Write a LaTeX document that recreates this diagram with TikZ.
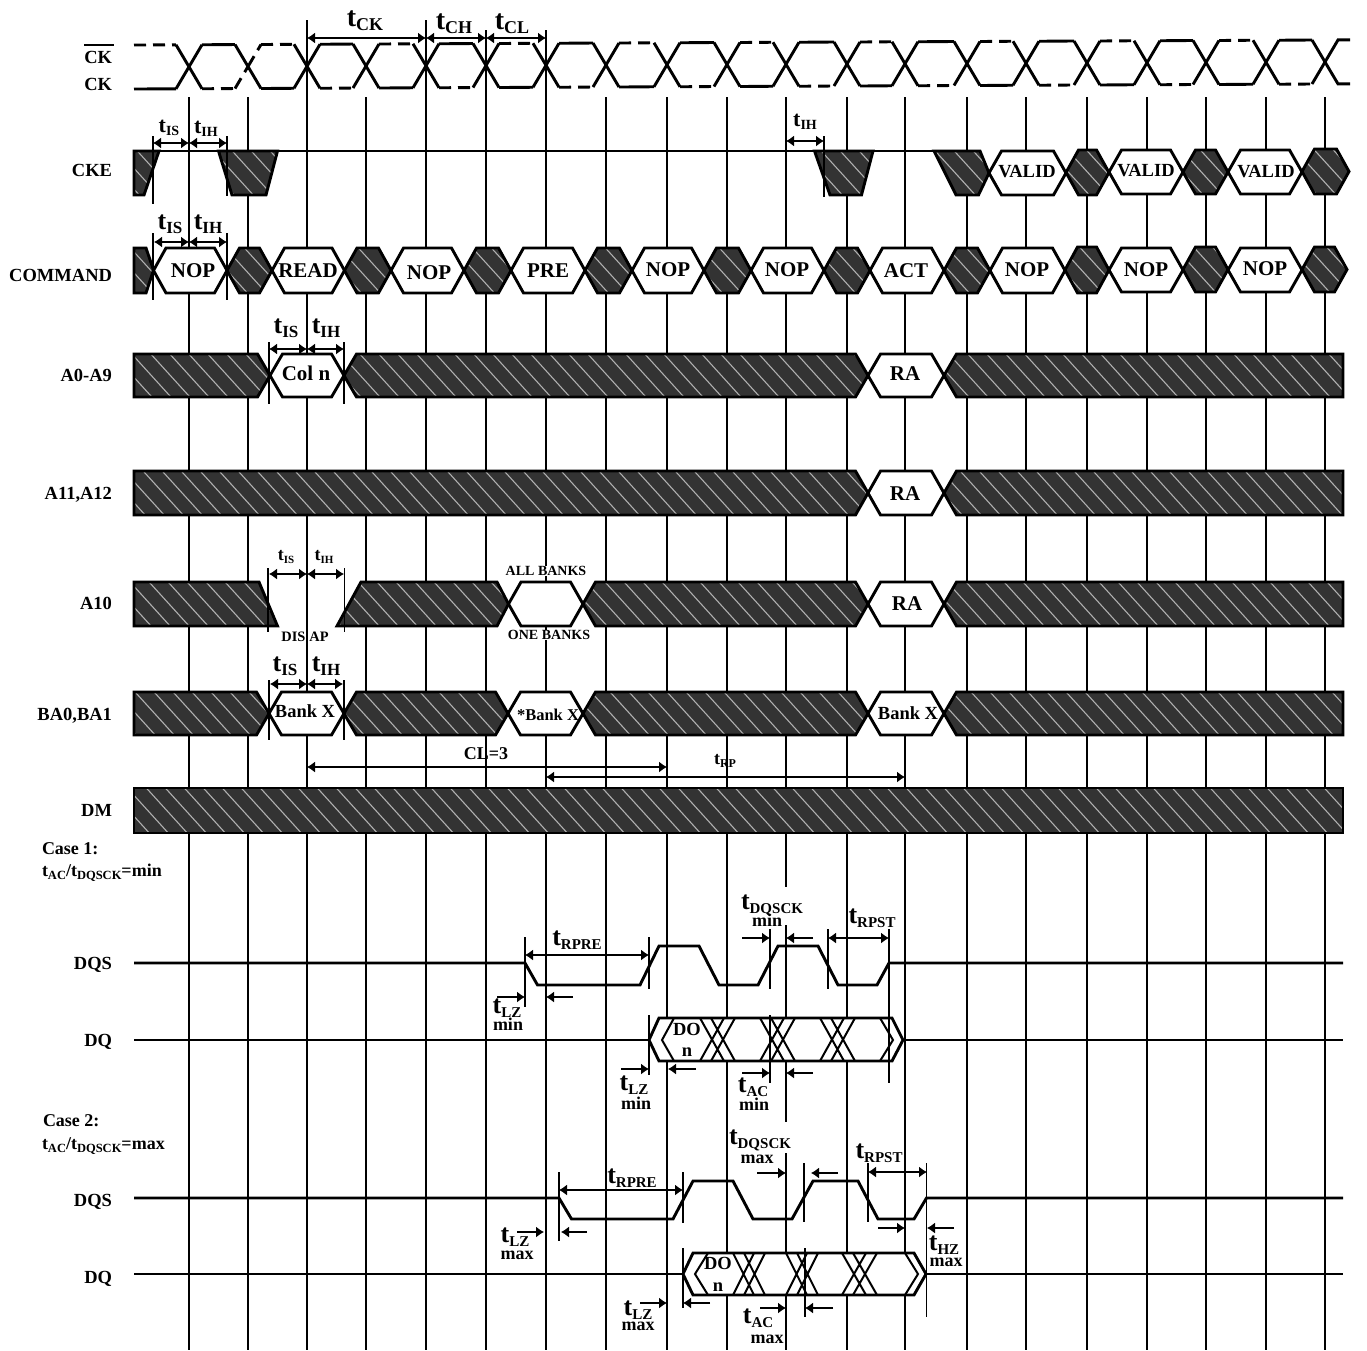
\documentclass[tikz,border=0pt]{standalone}
\usepackage{fontspec}
\setmainfont{Liberation Serif}
\usetikzlibrary{arrows.meta}
\definecolor{hatchdark}{HTML}{333333}
\definecolor{hatchlight}{HTML}{B0B0B0}
\newcommand\fs[1]{\fontsize{#1}{#1}\selectfont}
\newcommand\tsb[3]{\fs{#1}t\raisebox{-0.15em}{\fs{#2}#3}}
\tikzset{
  gridline/.style={line width=1.3pt,black},
  wave/.style={line width=2.9pt,black,line join=miter},
  wavedash/.style={line width=2.9pt,black,dash pattern=on 12pt off 7pt},
  thinx/.style={line width=2pt,black},
  tick/.style={line width=1.2pt,black},
  dimline/.style={line width=1.2pt,black,{Latex[length=8pt,width=11pt]}-{Latex[length=8pt,width=11pt]}},
  dimto/.style={line width=1.2pt,black,-{Latex[length=8pt,width=11pt]}},
  txt/.style={font=\bfseries,inner sep=0pt,outer sep=0pt,text=black},
  sig/.style={txt,anchor=east,font=\bfseries\fs{18.5},text height=12.5pt,text depth=0pt},
  hexlab/.style={txt,font=\bfseries\fs{21},text height=14pt,text depth=0pt},
  stripe/.style={line width=1.1pt,hatchlight},
}
% hatched polygon: xmin xmax ytop ybot path
\newcommand\hpoly[5]{%
  \begin{scope}
    \clip #5 -- cycle;
    \fill[hatchdark] (#1,#3) rectangle (#2,#4);
    \pgfmathtruncatemacro\ka{floor((#1-#4/1.1)/19)}
    \pgfmathtruncatemacro\kb{ceil((#2-#3/1.1)/19)}
    \foreach \k in {\ka,...,\kb}{
      \draw[stripe] ({19*\k+#3/1.1},#3) -- ({19*\k+#4/1.1},#4);
    }
  \end{scope}
  \draw[wave] #5 -- cycle;
}
% hatched hexagon between tips
\newcommand\dhex[4]{%
  \hpoly{#1}{#2}{#3}{#4}{(#1,{(#3+#4)/2}) -- ({#1+12.5},#3) -- ({#2-12.5},#3) -- (#2,{(#3+#4)/2}) -- ({#2-12.5},#4) -- ({#1+12.5},#4)}%
}
% white hexagon
\newcommand\whex[4]{%
  \draw[wave,fill=white] (#1,{(#3+#4)/2}) -- ({#1+12.5},#3) -- ({#2-12.5},#3) -- (#2,{(#3+#4)/2}) -- ({#2-12.5},#4) -- ({#1+12.5},#4) -- cycle;%
}
% band with flat left end, tip at right
\newcommand\lband[4]{%
  \hpoly{#1}{#2}{#3}{#4}{(#1,#3) -- ({#2-12.5},#3) -- (#2,{(#3+#4)/2}) -- ({#2-12.5},#4) -- (#1,#4)}%
}
% band with tip at left, flat right end
\newcommand\rband[4]{%
  \hpoly{#1}{#2}{#3}{#4}{(#1,{(#3+#4)/2}) -- ({#1+12.5},#3) -- (#2,#3) -- (#2,#4) -- ({#1+12.5},#4)}%
}
% crossing group of the data eye
\newcommand\dqx[4]{%
  \draw[thinx] (#1,#2) -- ({#1+#4-11},#3) ({#1+11},#2) -- ({#1+#4},#3)
               (#1,#3) -- ({#1+#4-11},#2) ({#1+11},#3) -- ({#1+#4},#2);%
}
\begin{document}
\begin{tikzpicture}[x=1pt,y=-1pt,declare function={ckt(\x)=45-(\x-134)*5/1190;}]
\useasboundingbox (0,0) rectangle (1367,1350);
\fill[white] (0,0) rectangle (1367,1350);

% ---------- clock grid ----------
\foreach \x in {189,248,366,606,667,727,786,847,905,967,1026,1087,1147,1206,1266,1325}
  \draw[gridline] (\x,97) -- (\x,1350);
\foreach \x in {307,426} \draw[gridline] (\x,20) -- (\x,1350);
\foreach \x in {486,546} \draw[gridline] (\x,30) -- (\x,1350);
% gaps of the grid behind two labels
\fill[white] (783,887) rectangle (789,925);
\fill[white] (783,1122) rectangle (789,1153);

% ---------- CK / CK# ----------
\draw[wavedash] (134,{ckt(134)}) -- (176,{ckt(176)});
\draw[wave] (134,{ckt(134)+44}) -- (176,{ckt(176)+44});
\draw[wave] (176,{ckt(176)}) -- (189,{ckt(189)+22});
\draw[wave] (176,{ckt(176)+44}) -- (189,{ckt(189)+22});
\foreach \a/\b [count=\i from 1] in {189/248,248/307,307/366,366/426,426/486,486/546,546/606,606/667,667/727,727/786,786/847,847/905,905/967,967/1026,1026/1087,1087/1147,1147/1206,1206/1266,1266/1325}{
  \pgfmathsetmacro\ta{ckt(\a)}
  \pgfmathsetmacro\tb{ckt(\b)}
  \pgfmathsetmacro\ma{\ta+22}
  \pgfmathsetmacro\mb{\tb+22}
  \pgfmathsetmacro\la{\ta+44}
  \pgfmathsetmacro\lb{\tb+44}
  \pgfmathsetmacro\xa{\a+13}
  \pgfmathsetmacro\xb{\b-13}
  \ifodd\i
    \draw[wave] (\xa,\ta) -- (\xb,\tb);
    \draw[wavedash] (\xa,\la) -- (\xb,\lb);
  \else
    \draw[wavedash] (\xa,\ta) -- (\xb,\tb);
    \draw[wave] (\xa,\la) -- (\xb,\lb);
  \fi
  \ifnum\i=2
    \draw[wavedash] (\a,\ma) -- (\xa,\ta);
  \else
    \draw[wave] (\a,\ma) -- (\xa,\ta);
  \fi
  \draw[wave] (\xb,\tb) -- (\b,\mb);
  \draw[wave] (\a,\ma) -- (\xa,\la);
  \ifnum\i=1
    \draw[wavedash] (\xb,\lb) -- (\b,\mb);
  \else
    \draw[wave] (\xb,\lb) -- (\b,\mb);
  \fi
}
\draw[wave] (1325,{ckt(1325)+22}) -- (1338,{ckt(1338)}) -- (1350,{ckt(1350)});
\draw[wave] (1325,{ckt(1325)+22}) -- (1338,{ckt(1338)+44}) -- (1350,{ckt(1350)+44});

\draw[dimline] (307,38) -- (426,38);
\draw[dimline] (426,38) -- (486,38);
\draw[dimline] (486,38) -- (546,38);
\node[txt] (lblTCK) at (365,21) {\tsb{28}{18}{CK}};
\node[txt] (lblTCH) at (454,24) {\tsb{28}{18}{CH}};
\node[txt] (lblTCL) at (512,24) {\tsb{28}{18}{CL}};

% ---------- CKE ----------
\draw[wave] (159,151) -- (815,151);
\draw[wave] (873,151) -- (934,151);
\hpoly{134}{159}{151}{195}{(134,151) -- (159,151) -- (144,195) -- (134,195)}
\hpoly{218}{278}{151}{195}{(218.5,151) -- (277.5,151) -- (266,195) -- (232,195)}
\hpoly{814}{873}{151}{195}{(814.5,151) -- (873,151) -- (861.5,195) -- (830,195)}
\hpoly{934}{990}{151}{195}{(934,151) -- (980,151) -- (989,173) -- (978.5,195) -- (956,195)}
\whex{989}{1066}{151}{195}
\dhex{1066}{1109}{150}{195}
\whex{1109}{1183}{150}{194}
\dhex{1183}{1228}{150}{194}
\whex{1228}{1302}{150}{194}
\dhex{1302}{1349}{149}{194}
\node[txt,font=\bfseries\fs{18.5}] (valid1) at (1027,172) {VALID};
\node[txt,font=\bfseries\fs{18.5}] (valid2) at (1146,171) {VALID};
\node[txt,font=\bfseries\fs{18.5}] (valid3) at (1266,172) {VALID};
\draw[tick] (153,136) -- (153,204);
\draw[tick] (227,136) -- (227,196);
\draw[tick] (824,136) -- (824,197);
\draw[dimline] (153,143) -- (189,143);
\draw[dimline] (189,143) -- (227,143);
\draw[dimline] (786,141) -- (824,141);
\node[txt] (ckeIS) at (169,128) {\tsb{22}{14}{IS}};
\node[txt] (ckeIH) at (206,129) {\tsb{22}{14}{IH}};
\node[txt] (ckeIHb) at (805,122) {\tsb{22}{14}{IH}};

% ---------- COMMAND ----------
\hpoly{134}{154}{248}{293}{(134,248) -- (146,248) -- (153.5,270) -- (146,293) -- (134,293)}
\whex{153.5}{227}{248}{293}
\dhex{227}{272}{248}{293}
\whex{272}{344.5}{248}{293}
\dhex{344.5}{391}{248}{293}
\whex{391}{464}{248}{293}
\dhex{464}{511}{248}{293}
\whex{511}{585}{248}{293}
\dhex{585}{632}{248}{293}
\whex{632}{704}{248}{293}
\dhex{704}{751}{248}{293}
\whex{751}{824}{248}{293}
\dhex{824}{870}{248}{293}
\whex{870}{944}{248}{293}
\dhex{944}{990}{248}{293}
\whex{990}{1065}{248}{293}
\dhex{1065}{1109}{247}{293}
\whex{1109}{1183}{248}{292}
\dhex{1183}{1228}{247}{292}
\whex{1228}{1302}{248}{292}
\dhex{1302}{1347}{247}{292}
\node[hexlab] (cmd1) at (193,270) {NOP};
\node[hexlab] (cmd2) at (308,270) {READ};
\node[hexlab] (cmd3) at (429,272) {NOP};
\node[hexlab] (cmd4) at (548,270) {PRE};
\node[hexlab] (cmd5) at (668,269) {NOP};
\node[hexlab] (cmd6) at (787,269) {NOP};
\node[hexlab] (cmd7) at (906,270) {ACT};
\node[hexlab] (cmd8) at (1027,269) {NOP};
\node[hexlab] (cmd9) at (1146,269) {NOP};
\node[hexlab] (cmd10) at (1265,268) {NOP};
\draw[tick] (153,233) -- (153,300);
\draw[tick] (227,233) -- (227,300);
\draw[dimline] (154,242) -- (189,242);
\draw[dimline] (189,242) -- (227,242);
\node[txt] (cmdIS) at (170,224) {\tsb{26}{17}{IS}};
\node[txt] (cmdIH) at (208,224) {\tsb{26}{17}{IH}};

% ---------- A0-A9 ----------
\lband{134}{270}{354}{397}
\whex{270}{344}{354}{397}
\dhex{344}{868}{354}{397}
\whex{868}{944}{354}{397}
\rband{944}{1343}{354}{397}
\node[hexlab] (coln) at (306,373) {Col n};
\node[hexlab] (ra1) at (905,373) {RA};
\draw[tick] (269,342) -- (269,404);
\draw[tick] (344,342) -- (344,404);
\draw[dimline] (269,349) -- (307,349);
\draw[dimline] (307,349) -- (344,349);
\node[txt] (aIS) at (286,328) {\tsb{26}{17}{IS}};
\node[txt] (aIH) at (326,328) {\tsb{26}{17}{IH}};

% ---------- A11,A12 ----------
\lband{134}{868}{471}{515}
\whex{868}{944}{471}{515}
\rband{944}{1343}{471}{515}
\node[hexlab] (ra2) at (905,493) {RA};

% ---------- A10 ----------
\hpoly{134}{278}{582}{626}{(134,582) -- (259,582) -- (277.5,626) -- (134,626)}
\hpoly{337}{509}{582}{626}{(337,626) -- (361,582) -- (497,582) -- (508.5,604) -- (497,626)}
\whex{508.5}{583}{582}{626}
\dhex{583}{868}{582}{626}
\whex{868}{944}{582}{626}
\rband{944}{1343}{582}{626}
\node[txt,fill=white,font=\bfseries\fs{14}] (allb) at (546,571) {ALL BANKS};
\node[txt,fill=white,font=\bfseries\fs{14}] (oneb) at (549,635) {ONE BANKS};
\node[txt,font=\bfseries\fs{14.4}] (disap) at (305,637) {DIS\hspace{4pt}AP};
\node[hexlab] (ra3) at (907,603) {RA};
\draw[tick] (268,568) -- (268,632);
\draw[tick] (344.5,568) -- (344.5,632);
\draw[dimline] (269,574) -- (307,574);
\draw[dimline] (307,574) -- (344,574);
\node[txt] (tenIS) at (286,557) {\tsb{18}{11}{IS}};
\node[txt] (tenIH) at (324,557) {\tsb{18}{11}{IH}};

% ---------- BA0,BA1 ----------
\lband{134}{269}{692}{735}
\whex{269}{344}{692}{735}
\dhex{344}{508}{692}{735}
\whex{508}{583}{692}{735}
\dhex{583}{868}{692}{735}
\whex{868}{944}{692}{735}
\rband{944}{1343}{692}{735}
\node[txt,font=\bfseries\fs{18.5}] (bank1) at (305,711) {Bank X};
\node[txt,font=\bfseries\fs{16.5}] (bank2) at (548,715) {*Bank X};
\node[txt,font=\bfseries\fs{18.5}] (bank3) at (908,713) {Bank X};
\draw[tick] (269,680) -- (269,740);
\draw[tick] (344,680) -- (344,740);
\draw[dimline] (270,684) -- (307,684);
\draw[dimline] (307,684) -- (343,684);
\node[txt] (baIS) at (285,666) {\tsb{26}{17}{IS}};
\node[txt] (baIH) at (326,666) {\tsb{26}{17}{IH}};

% ---------- CL / tRP ----------
\draw[dimline] (307,767) -- (667,767);
\draw[dimline] (546,777) -- (905,777);
\node[txt,font=\bfseries\fs{18}] (cl) at (486,754) {CL=3};
\node[txt] (trp) at (725,761) {\tsb{18}{12}{RP}};

% ---------- DM ----------
\hpoly{134}{1343}{788}{833}{(134,788) -- (1343,788) -- (1343,833) -- (134,833)}

% ---------- signal names ----------
\node[sig] (sCKn) at (112,57) {\makebox[0pt][l]{\rule[17pt]{30pt}{1.8pt}}CK};
\node[sig] (sCK) at (112,84) {CK};
\node[sig] (sCKE) at (112,170) {CKE};
\node[sig] (sCMD) at (112,275) {COMMAND};
\node[sig] (sA0) at (112,375) {A0-A9};
\node[sig] (sA11) at (112,493) {A11,A12};
\node[sig] (sA10) at (112,603) {A10};
\node[sig] (sBA) at (112,714) {BA0,BA1};
\node[sig] (sDM) at (112,810) {DM};
\node[sig] (sDQS1) at (112,963) {DQS};
\node[sig] (sDQ1) at (112,1040) {DQ};
\node[sig] (sDQS2) at (112,1200) {DQS};
\node[sig] (sDQ2) at (112,1277) {DQ};
\node[txt,anchor=west,font=\bfseries\fs{18}] (case1) at (42,849) {Case 1:};
\node[txt,anchor=west] (case1b) at (42,873) {\tsb{18}{12.5}{AC}\fs{18}/\tsb{18}{12.5}{DQSCK}\fs{18}=min};
\node[txt,anchor=west,font=\bfseries\fs{18}] (case2) at (43,1121) {Case 2:};
\node[txt,anchor=west] (case2b) at (42,1146) {\tsb{18}{12.5}{AC}\fs{18}/\tsb{18}{12.5}{DQSCK}\fs{18}=max};

% ---------- Case 1 DQS ----------
\draw[wave] (134,963) -- (525,963) -- (537.5,985) -- (640,985) -- (659,946) -- (699,946) -- (719,985) -- (758,985) -- (778,946) -- (818,946) -- (838,985) -- (877,985) -- (889,963) -- (1343,963);
\node[txt] (c1rpre) at (577,940) {\tsb{26}{15}{RPRE}};
\node[txt] (c1dqsck) at (772,905) {\tsb{26}{15}{DQSCK}};
\node[txt,font=\bfseries\fs{18}] (c1min1) at (767,920) {min};
\node[txt] (c1rpst) at (872,918) {\tsb{26}{15}{RPST}};
\draw[tick] (525,937) -- (525,1007);
\draw[tick] (649,937) -- (649,989);
\draw[tick] (770,929) -- (770,989);
\draw[tick] (828,929) -- (828,989);
\draw[dimline] (525,955) -- (649,955);
\draw[dimto] (742,938) -- (770,938);
\draw[dimto] (813,938) -- (786,938);
\draw[dimline] (828,938) -- (889,938);
\draw[dimto] (497,997) -- (525,997);
\draw[dimto] (573,997) -- (546,997);
\node[txt] (c1lz1) at (507,1008) {\tsb{26}{15}{LZ}};
\node[txt,font=\bfseries\fs{18}] (c1min2) at (508,1024) {min};

% ---------- Case 1 DQ ----------
\draw[wave] (134,1040) -- (649,1040);
\draw[wave] (903,1040) -- (1343,1040);
\draw[wave,fill=white] (649,1040) -- (659,1018) -- (892,1018) -- (903,1040) -- (892,1061) -- (659,1061) -- cycle;
\draw[thinx] (674,1018) -- (662,1040) -- (674,1061);
\draw[thinx] (880,1018) -- (893,1040) -- (880,1061);
\dqx{700}{1018}{1061}{35}
\dqx{760}{1018}{1061}{35}
\dqx{820}{1018}{1061}{35}
\node[txt,font=\bfseries\fs{18.5}] (c1do) at (687,1029) {DO};
\node[txt,font=\bfseries\fs{18.5}] (c1n) at (687,1052) {n};
\draw[tick] (649,1015) -- (649,1075);
\draw[tick] (770,1015) -- (770,1083);
\draw[tick] (889,929) -- (889,1083);
\draw[dimto] (621,1069) -- (649,1069);
\draw[dimto] (696,1069) -- (668,1069);
\draw[dimto] (742,1073) -- (770,1073);
\draw[dimto] (813,1073) -- (786,1073);
\node[txt] (c1lz2) at (634,1085) {\tsb{26}{15}{LZ}};
\node[txt,font=\bfseries\fs{18}] (c1min3) at (636,1103) {min};
\node[txt] (c1ac) at (753,1087) {\tsb{26}{15}{AC}};
\node[txt,font=\bfseries\fs{18}] (c1min4) at (754,1104) {min};

% ---------- Case 2 DQS ----------
\draw[wave] (134,1198) -- (559,1198) -- (571.5,1219) -- (673,1219) -- (693,1181) -- (733,1181) -- (753,1219) -- (792,1219) -- (813,1181) -- (858,1181) -- (878,1219) -- (914,1219) -- (926.5,1198) -- (1343,1198);
\node[txt] (c2rpre) at (632,1178) {\tsb{26}{15}{RPRE}};
\node[txt] (c2dqsck) at (760,1140) {\tsb{26}{15}{DQSCK}};
\node[txt,font=\bfseries\fs{18}] (c2max1) at (757,1159) {max};
\node[txt] (c2rpst) at (879,1153) {\tsb{26}{15}{RPST}};
\draw[tick] (559,1172) -- (559,1241);
\draw[tick] (683,1172) -- (683,1223);
\draw[tick] (804,1163) -- (804,1222);
\draw[tick] (868,1163) -- (868,1222);
\draw[dimline] (559,1190) -- (683,1190);
\draw[dimto] (757,1173) -- (786,1173);
\draw[dimto] (838,1173) -- (811,1173);
\draw[dimline] (868,1172) -- (927,1172);
\draw[dimto] (517,1232) -- (544,1232);
\draw[dimto] (587,1232) -- (561,1232);
\draw[dimto] (878,1228) -- (905,1228);
\draw[dimto] (954,1228) -- (927,1228);
\node[txt] (c2lz1) at (515,1237) {\tsb{26}{15}{LZ}};
\node[txt,font=\bfseries\fs{18}] (c2max2) at (517,1255) {max};

% ---------- Case 2 DQ ----------
\draw[wave] (134,1274) -- (683,1274);
\draw[wave] (926,1274) -- (1343,1274);
\draw[wave,fill=white] (683,1274) -- (693,1253) -- (914,1253) -- (926,1274) -- (914,1295) -- (693,1295) -- cycle;
\draw[thinx] (708,1253) -- (695,1274) -- (708,1295);
\draw[thinx] (905,1253) -- (918,1274) -- (905,1295);
\dqx{733}{1253}{1295}{32}
\dqx{786}{1253}{1295}{32}
\dqx{842}{1253}{1295}{35}
\node[txt,font=\bfseries\fs{18.5}] (c2do) at (718,1263) {DO};
\node[txt,font=\bfseries\fs{18.5}] (c2n) at (718,1287) {n};
\draw[tick] (683,1248) -- (683,1308);
\draw[tick] (805,1248) -- (805,1317);
\draw[tick] (926.5,1163) -- (926.5,1317);
\draw[dimto] (640,1303) -- (667,1303);
\draw[dimto] (710,1303) -- (683,1303);
\draw[dimto] (760,1308) -- (786,1308);
\draw[dimto] (833,1308) -- (805,1308);
\node[txt] (c2lz2) at (638,1310) {\tsb{26}{15}{LZ}};
\node[txt,font=\bfseries\fs{18}] (c2max3) at (638,1326) {max};
\node[txt] (c2ac) at (758,1318) {\tsb{26}{15}{AC}};
\node[txt,font=\bfseries\fs{18}] (c2max4) at (767,1339) {max};
\node[txt] (c2hz) at (944,1245) {\tsb{26}{15}{HZ}};
\node[txt,font=\bfseries\fs{18}] (c2max5) at (946,1262) {max};
\end{tikzpicture}
\end{document}
